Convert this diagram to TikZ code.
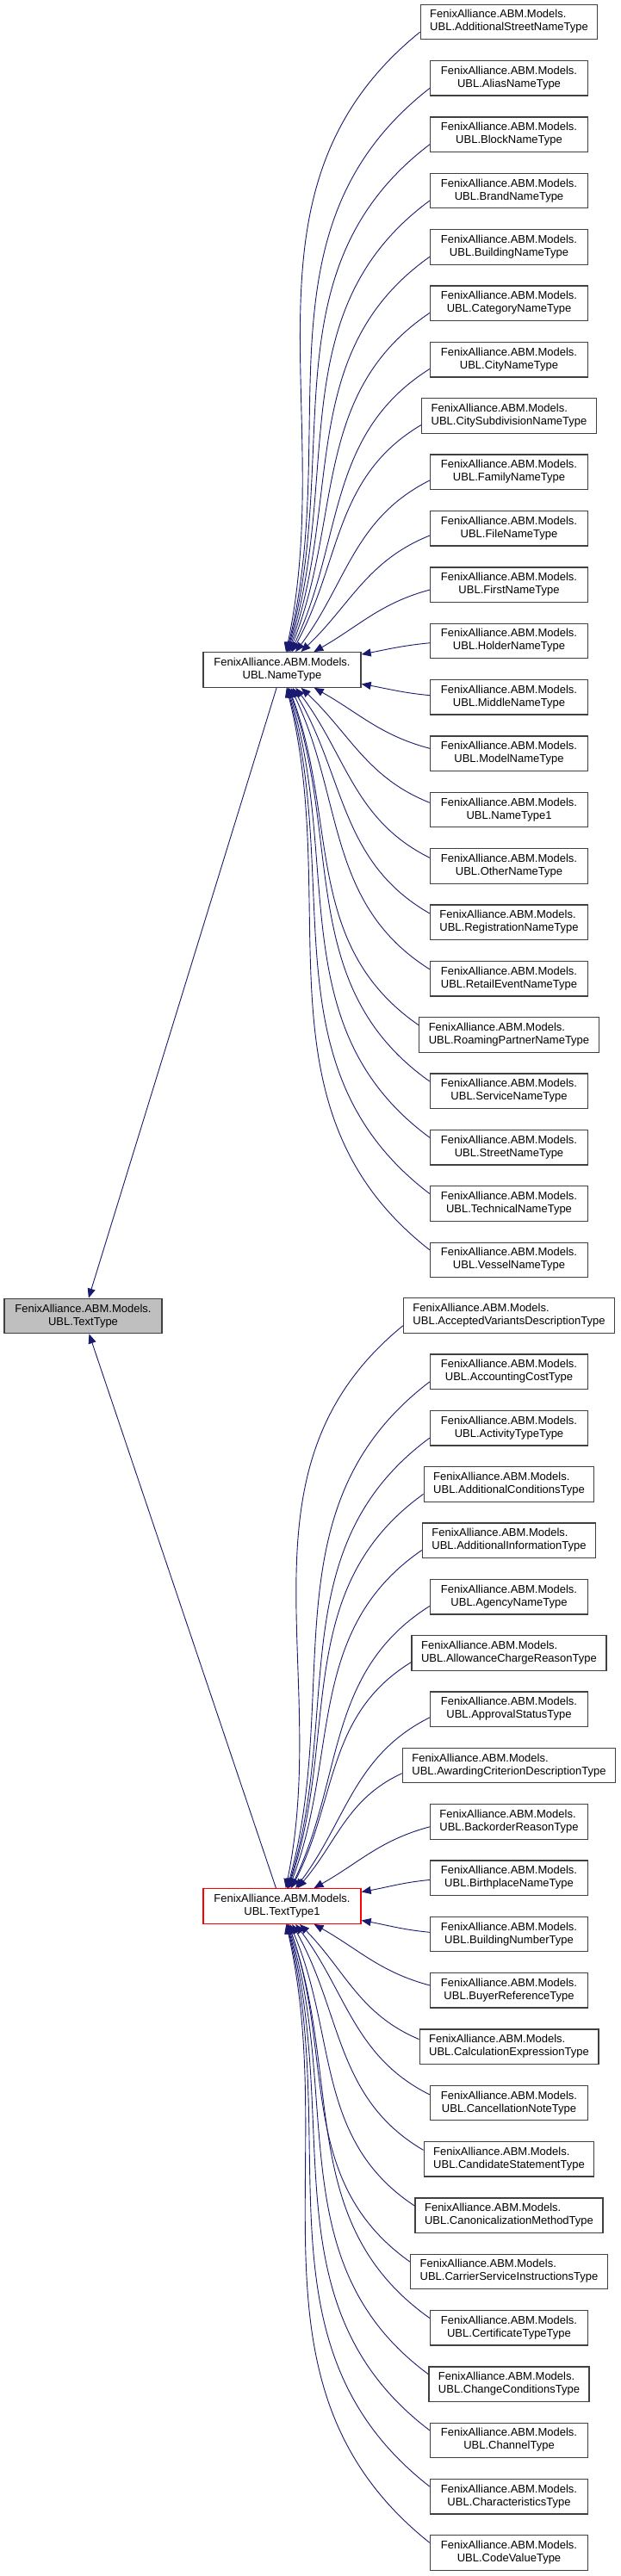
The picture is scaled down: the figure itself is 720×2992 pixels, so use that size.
\documentclass[tikz,border=0pt]{standalone}
\usepackage{fontspec}
\setmainfont{Liberation Sans}
\usetikzlibrary{arrows.meta,calc}
\newsavebox\lblA
\newsavebox\lblB
\newcommand\lbl[1]{\sbox\lblA{FenixAlliance.ABM.Models.}\sbox\lblB{UBL.#1}%
 \ifdim\wd\lblB>\wd\lblA\relax\begin{tabular}{@{}l@{}}\usebox\lblA\\\usebox\lblB\end{tabular}%
 \else\begin{tabular}{@{}c@{}}\usebox\lblA\\\usebox\lblB\end{tabular}\fi}
\definecolor{edgeblue}{RGB}{25,25,112}
\definecolor{boxgrey}{RGB}{64,64,64}
\definecolor{fillgrey}{RGB}{191,191,191}
\begin{document}
\begin{tikzpicture}[x=1pt,y=-1pt,
 box/.style={draw=boxgrey, line width=1.3pt, fill=white, font=\fontsize{13}{15}\selectfont,
   inner xsep=11pt, inner ysep=0pt, minimum width=183pt, minimum height=40.5pt},
 edge/.style={draw=edgeblue, line width=0.9pt, -{Triangle[length=11pt,width=9pt]}}]
\useasboundingbox (0,0) rectangle (720,2992);

\node[box, fill=fillgrey] (tt) at (96.5,1528.5) {\lbl{TextType}};
\node[box] (nt) at (327.5,778) {\lbl{NameType}};
\node[box, draw=red] (tt1) at (327.5,2214) {\lbl{TextType1}};

\foreach \nm [count=\i] in {AdditionalStreetNameType,AliasNameType,BlockNameType,BrandNameType,BuildingNameType,CategoryNameType,CityNameType,CitySubdivisionNameType,FamilyNameType,FileNameType,FirstNameType,HolderNameType,MiddleNameType,ModelNameType,NameType1,OtherNameType,RegistrationNameType,RetailEventNameType,RoamingPartnerNameType,ServiceNameType,StreetNameType,TechnicalNameType,VesselNameType}{
  \node[box] (a\i) at (591,{25.5+(\i-1)*65.36}) {\lbl{\nm}};
  \draw[edge] let \p1=(a\i.west), \p2=(nt.center), \n1={atan2(\y1-\y2,\x1-\x2)} in
    ([yshift={-12*sin(\n1)}]a\i.west) to[out={180+\n1/2}, in=\n1] (nt);
}

\foreach \nm [count=\i] in {AcceptedVariantsDescriptionType,AccountingCostType,ActivityTypeType,AdditionalConditionsType,AdditionalInformationType,AgencyNameType,AllowanceChargeReasonType,ApprovalStatusType,AwardingCriterionDescriptionType,BackorderReasonType,BirthplaceNameType,BuildingNumberType,BuyerReferenceType,CalculationExpressionType,CancellationNoteType,CandidateStatementType,CanonicalizationMethodType,CarrierServiceInstructionsType,CertificateTypeType,ChangeConditionsType,ChannelType,CharacteristicsType,CodeValueType}{
  \node[box] (b\i) at (591,{1528+(\i-1)*65.32}) {\lbl{\nm}};
  \draw[edge] let \p1=(b\i.west), \p2=(tt1.center), \n1={atan2(\y1-\y2,\x1-\x2)} in
    ([yshift={-12*sin(\n1)}]b\i.west) to[out={180+\n1/2}, in=\n1] (tt1);
}

\draw[edge] (nt) -- (tt);
\draw[edge] (tt1) -- (tt);
\end{tikzpicture}
\end{document}
